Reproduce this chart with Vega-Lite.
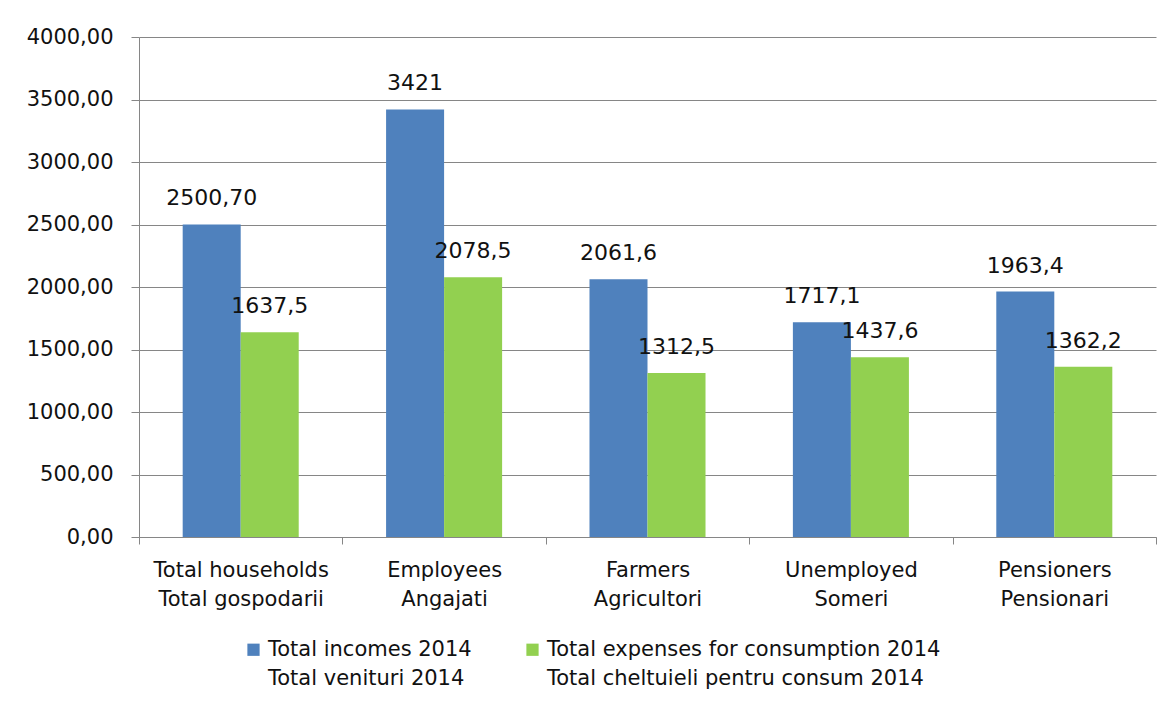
{
  "$schema": "https://vega.github.io/schema/vega-lite/v6.json",
  "autosize": {"type": "none"},
  "width": 1017,
  "height": 500,
  "padding": {"left": 139, "top": 37, "right": 17, "bottom": 171},
  "background": "white",
  "data": {
    "values": [
      {"cat": "Total households|Total gospodarii", "series": "Total incomes 2014|Total venituri 2014", "value": 2500.70, "label": "2500,70"},
      {"cat": "Total households|Total gospodarii", "series": "Total expenses for consumption 2014|Total cheltuieli pentru consum 2014", "value": 1637.5, "label": "1637,5"},
      {"cat": "Employees|Angajati", "series": "Total incomes 2014|Total venituri 2014", "value": 3421, "label": "3421"},
      {"cat": "Employees|Angajati", "series": "Total expenses for consumption 2014|Total cheltuieli pentru consum 2014", "value": 2078.5, "label": "2078,5"},
      {"cat": "Farmers|Agricultori", "series": "Total incomes 2014|Total venituri 2014", "value": 2061.6, "label": "2061,6"},
      {"cat": "Farmers|Agricultori", "series": "Total expenses for consumption 2014|Total cheltuieli pentru consum 2014", "value": 1312.5, "label": "1312,5"},
      {"cat": "Unemployed|Someri", "series": "Total incomes 2014|Total venituri 2014", "value": 1717.1, "label": "1717,1"},
      {"cat": "Unemployed|Someri", "series": "Total expenses for consumption 2014|Total cheltuieli pentru consum 2014", "value": 1437.6, "label": "1437,6"},
      {"cat": "Pensioners|Pensionari", "series": "Total incomes 2014|Total venituri 2014", "value": 1963.4, "label": "1963,4"},
      {"cat": "Pensioners|Pensionari", "series": "Total expenses for consumption 2014|Total cheltuieli pentru consum 2014", "value": 1362.2, "label": "1362,2"}
    ]
  },
  "encoding": {
    "x": {
      "field": "cat",
      "type": "nominal",
      "sort": null,
      "scale": {"paddingInner": 0, "paddingOuter": 0},
      "axis": {
        "title": null,
        "labelAngle": 0,
        "labelExpr": "split(datum.label, '|')",
        "labelFont": "DejaVu Sans",
        "labelFontSize": 21,
        "labelColor": "#111111",
        "labelLineHeight": 29,
        "labelPadding": 15,
        "labelBaseline": "top",
        "tickBand": "extent",
        "tickSize": 7,
        "tickColor": "#868686",
        "domainColor": "#868686",
        "labelLimit": 300
      }
    },
    "xOffset": {
      "field": "series",
      "type": "nominal",
      "sort": ["Total incomes 2014|Total venituri 2014", "Total expenses for consumption 2014|Total cheltuieli pentru consum 2014"],
      "scale": {"paddingInner": 0, "paddingOuter": 0.753}
    }
  },
  "layer": [
    {
      "mark": {"type": "bar"},
      "encoding": {
        "y": {
          "field": "value",
          "type": "quantitative",
          "scale": {"domain": [0, 4000], "nice": false},
          "axis": {
            "title": null,
            "values": [0, 500, 1000, 1500, 2000, 2500, 3000, 3500, 4000],
            "labelExpr": "replace(format(datum.value, '.2f'), '.', ',')",
            "labelFont": "DejaVu Sans",
            "labelFontSize": 21,
            "labelColor": "#111111",
            "labelPadding": 18,
            "tickSize": 8,
            "tickColor": "#868686",
            "domainColor": "#868686",
            "gridColor": "#868686",
            "gridWidth": 1
          }
        },
        "color": {
          "field": "series",
          "type": "nominal",
          "scale": {
            "domain": ["Total incomes 2014|Total venituri 2014", "Total expenses for consumption 2014|Total cheltuieli pentru consum 2014"],
            "range": ["#4F81BD", "#92D050"]
          },
          "legend": {
            "title": null,
            "orient": "none",
            "direction": "horizontal",
            "legendX": 104,
            "legendY": 602,
            "labelExpr": "split(datum.label, '|')",
            "labelFont": "DejaVu Sans",
            "labelFontSize": 21,
            "labelColor": "#111111",
            "labelLimit": 500,
            "symbolType": "square",
            "symbolSize": 150,
            "symbolStrokeWidth": 0,
            "labelOffset": 4,
            "columnPadding": 50
          }
        }
      }
    },
    {
      "mark": {"type": "text", "baseline": "bottom", "dy": -14, "font": "DejaVu Sans", "fontSize": 22, "color": "#111111"},
      "encoding": {
        "y": {"field": "value", "type": "quantitative"},
        "text": {"field": "label", "type": "nominal"}
      }
    }
  ],
  "config": {
    "view": {"stroke": null},
    "style": {"guide-label": {"lineHeight": 29}}
  }
}
